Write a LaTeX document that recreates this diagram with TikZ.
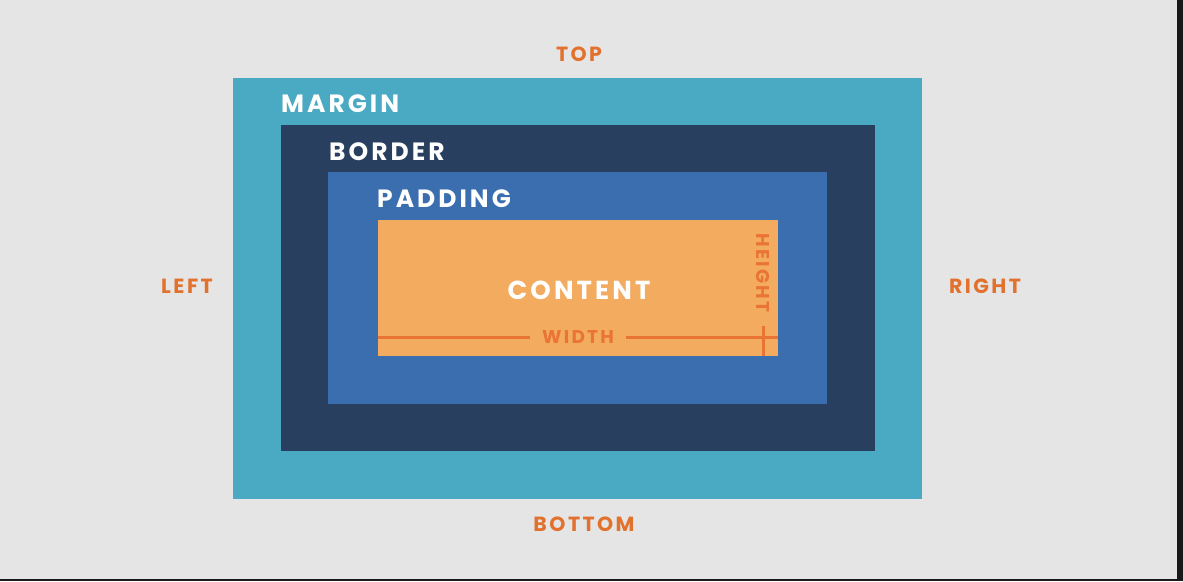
\documentclass[tikz,border=0pt]{standalone}
\usepackage{fontspec}
\setmainfont{Poppins}[LetterSpace=12]
\usetikzlibrary{positioning}
\definecolor{bgray}{HTML}{E5E5E5}
\definecolor{marginblue}{HTML}{4AA9C3}
\definecolor{borderblue}{HTML}{283F60}
\definecolor{paddingblue}{HTML}{3A6EAF}
\definecolor{contentorange}{HTML}{F2AB5F}
\definecolor{sideorange}{HTML}{E2712E}
\definecolor{dimorange}{HTML}{EA7434}
\tikzset{
  layer/.style={draw=none, inner sep=0pt, outer sep=0pt},
  layerlabel/.style={text=white, font=\bfseries\fontsize{25}{25}\selectfont, anchor=base west, inner sep=0pt},
  sidelabel/.style={text=sideorange, font=\bfseries\fontsize{20.5}{20.5}\selectfont, inner sep=0pt},
  dimlabel/.style={text=dimorange, font=\bfseries\fontsize{18.5}{18.5}\selectfont, inner sep=0pt},
  dimline/.style={dimorange, line width=3pt}
}
\begin{document}
\begin{tikzpicture}[x=1pt, y=-1pt]
        % Background and frame edges
        \fill[bgray] (0,0) rectangle (1183,581);
        \fill[black!90] (1177,0) rectangle (1183,581);
        \fill[black!90] (0,579) rectangle (1183,581);
        \useasboundingbox (0,0) rectangle (1183,581);

        % Nested boxes
        \node[layer, fill=marginblue, minimum width=689pt, minimum height=421pt] (margin) at (577.5,288.5) {};
        \node[layer, fill=borderblue, minimum width=594pt, minimum height=326pt] (border) at (578,288) {};
        \node[layer, fill=paddingblue, minimum width=499pt, minimum height=232pt] (padding) at (577.5,288) {};
        \node[layer, fill=contentorange, minimum width=400pt, minimum height=136pt] (content) at (578,288) {};

        % Box labels
        \node[layerlabel] (marginlbl) at (281,112) {MARGIN};
        \node[layerlabel] (borderlbl) at (329,160) {BORDER};
        \node[layerlabel] (paddinglbl) at (377,207) {PADDING};
        \node[text=white, font=\bfseries\fontsize{26}{26}\selectfont, inner sep=0pt] (contentlbl) at (579,290) {CONTENT};

        % Side labels
        \node[sidelabel] (top) at (579,54) {TOP};
        \node[sidelabel] (bottom) at (584,524) {BOTTOM};
        \node[sidelabel] (left) at (187,286) {LEFT};
        \node[sidelabel] (right) at (985,286) {RIGHT};

        % Width and height markers
        \node[dimlabel, inner xsep=12pt] (width) at (578,337) {WIDTH};
        \node[dimlabel, rotate=-90, inner xsep=6pt] (height) at (763,273) {HEIGHT};
        \coordinate (wstart) at (content.west |- width);
        \coordinate (wend) at (content.east |- width);
        \coordinate (hend) at (height.center |- content.south);
        \draw[dimline] (wstart) -- (width.west);
        \draw[dimline] (width.east) -- (wend);
        \draw[dimline] (height.center |- 0,326) -- (hend);
    \end{tikzpicture}
\end{document}
